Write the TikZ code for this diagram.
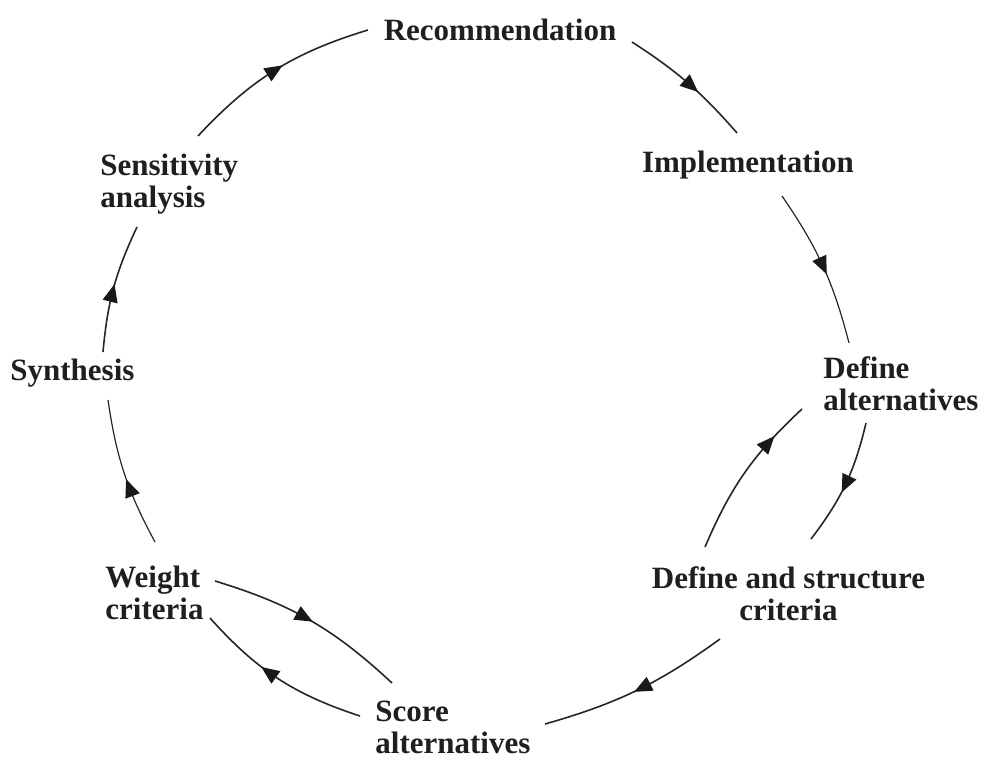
\documentclass[tikz,border=0pt]{standalone}
\usepackage{fontspec}
\setmainfont{Liberation Serif}
\usetikzlibrary{arrows.meta,decorations.markings}
\begin{document}
\begin{tikzpicture}[x=0.5pt,y=-0.5pt,
  lbl/.style={font=\fontsize{15.5}{16}\selectfont\bfseries,inner sep=0pt,text=black!88},
  conn/.style={line width=0.8pt,draw=black!85},
  midarrow/.style={postaction={decorate},decoration={markings,mark=at position #1 with {\arrow[xshift=4.5pt,black!90]{Triangle[length=9pt,width=7.5pt]}}}},
  midarrow/.default=0.5]
\useasboundingbox (0,0) rectangle (988,760);
\node[lbl,anchor=base] (rec) at (500,40) {Recommendation};
\node[lbl,anchor=base] (impl) at (748,172) {Implementation};
\node[lbl,anchor=north west,align=left] (defalt) at (823,356) {\strut Define\\alternatives};
\node[lbl,anchor=north,align=center] (dsc) at (788.5,566) {\strut Define and structure\\criteria};
\node[lbl,anchor=north west,align=left] (score) at (375,699) {\strut Score\\alternatives};
\node[lbl,anchor=north west,align=left] (weight) at (105,565) {\strut Weight\\criteria};
\node[lbl,anchor=base west] (synth) at (10,380) {Synthesis};
\node[lbl,anchor=north west,align=left] (sens) at (100,153) {\strut Sensitivity\\analysis};

\draw[conn,midarrow=.53] ([shift={(132,2)}]rec.base) to[bend left=8] ([shift={(-11,-39)}]impl.base);
\draw[conn,line width=0.6pt,midarrow=.5] ([shift={(34,24)}]impl.base) to[bend left=10] ([shift={(26,-13)}]defalt.north west);
\draw[conn,midarrow=.5] ([shift={(43,67)}]defalt.north west) to[bend left=12] ([shift={(22.5,-27)}]dsc.north);
\draw[conn,midarrow=.72] ([shift={(-83.5,-19)}]dsc.north) to[bend left=12] ([shift={(-21,53)}]defalt.north west);
\draw[conn,midarrow=.47] ([shift={(-68.5,73)}]dsc.north) to[bend left=10] ([shift={(170,25)}]score.north west);
\draw[conn,midarrow=.47] ([shift={(110,16)}]weight.north west) to[bend left=13] ([shift={(17,-16)}]score.north west);
\draw[conn,midarrow=.56] ([shift={(-15,17)}]score.north west) to[bend left=15] ([shift={(105,53)}]weight.north west);
\draw[conn,line width=0.6pt,midarrow=.4] ([shift={(50,-23)}]weight.north west) to[bend left=10] ([shift={(98,20)}]synth.base west);
\draw[conn,midarrow=.46] ([shift={(93,-28)}]synth.base west) to[bend left=10] ([shift={(37,74)}]sens.north west);
\draw[conn,midarrow=.5] ([shift={(98,-17)}]sens.north west) to[bend left=15] ([shift={(-132,-10)}]rec.base);
\end{tikzpicture}
\end{document}
